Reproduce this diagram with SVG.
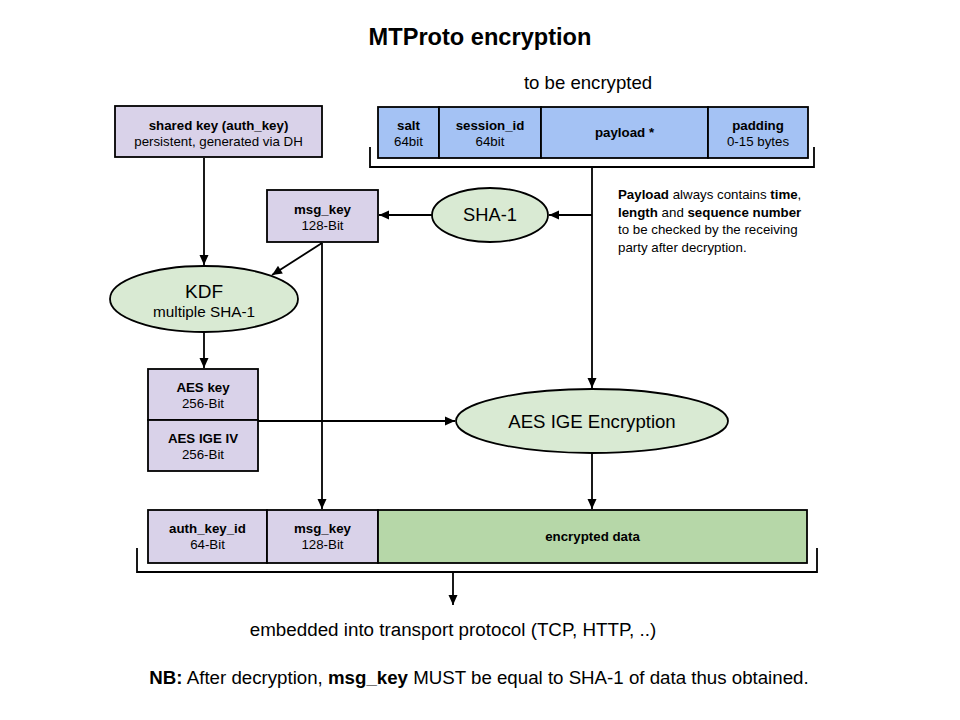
<svg xmlns="http://www.w3.org/2000/svg" width="960" height="720" viewBox="0 0 960 720">
<defs>
<marker id="ah" viewBox="0 0 10 10" refX="10" refY="5" markerWidth="11" markerHeight="10" markerUnits="userSpaceOnUse" orient="auto">
<path d="M0,0.5 L10,5 L0,9.5 z" fill="#000"/>
</marker>
<style>
text{font-family:"Liberation Sans",Arial,sans-serif;fill:#000}
.p{fill:#d9d2e9;stroke:#000;stroke-width:1.8}
.b{fill:#a4c2f4;stroke:#000;stroke-width:1.8}
.g{fill:#b6d7a8;stroke:#000;stroke-width:1.8}
.e{fill:#d9ead3;stroke:#000;stroke-width:1.8}
.l{fill:none;stroke:#000;stroke-width:1.8}
.a{fill:none;stroke:#000;stroke-width:1.8;marker-end:url(#ah)}
.t{font-size:13.3px;text-anchor:middle}
.tb{font-size:13.3px;text-anchor:middle;font-weight:bold}
</style>
</defs>
<rect width="960" height="720" fill="#fff"/>
<text x="480" y="45" font-size="23.6" font-weight="bold" text-anchor="middle">MTProto encryption</text>
<text x="588" y="89" font-size="18.6" text-anchor="middle">to be encrypted</text>

<g id="connectors">
<polyline class="l" points="370,147 370,167 814,167 814,147"/>
<line class="l" x1="592" y1="167" x2="592" y2="215"/>
<line class="a" x1="592" y1="215" x2="549" y2="215"/>
<line class="a" x1="592" y1="215" x2="592" y2="388"/>
<line class="a" x1="432" y1="215" x2="379" y2="215"/>
<line class="a" x1="204" y1="158" x2="204" y2="265"/>
<line class="a" x1="322" y1="243" x2="272" y2="275"/>
<line class="a" x1="322" y1="243" x2="322" y2="509"/>
<line class="a" x1="204" y1="333" x2="204" y2="368"/>
<line class="a" x1="258" y1="421" x2="455" y2="421"/>
<line class="a" x1="592" y1="454" x2="592" y2="509"/>
<polyline class="l" points="137,548 137,572 817,572 817,548"/>
<line class="a" x1="453" y1="572" x2="453" y2="605"/>
</g>

<g id="shared_key">
<rect class="p" x="115" y="106" width="207" height="51"/>
<text class="tb" x="218.5" y="130">shared key (auth_key)</text>
<text class="t" x="218.5" y="146">persistent, generated via DH</text>
</g>

<g id="to_be_encrypted">
<rect class="b" x="378" y="107" width="61" height="51"/>
<text class="tb" x="408.5" y="130">salt</text>
<text class="t" x="408.5" y="146">64bit</text>
<rect class="b" x="439" y="107" width="102" height="51"/>
<text class="tb" x="490" y="130">session_id</text>
<text class="t" x="490" y="146">64bit</text>
<rect class="b" x="541" y="107" width="167" height="51"/>
<text class="tb" x="624.5" y="137">payload *</text>
<rect class="b" x="708" y="107" width="100" height="51"/>
<text class="tb" x="758" y="130">padding</text>
<text class="t" x="758" y="146">0-15 bytes</text>
</g>

<g id="msg_key">
<rect class="p" x="267" y="190" width="111" height="52"/>
<text class="tb" x="322.5" y="214">msg_key</text>
<text class="t" x="322.5" y="230">128-Bit</text>
</g>

<g id="sha1">
<ellipse class="e" cx="490" cy="215" rx="58" ry="27"/>
<text x="490" y="221" font-size="18.3" text-anchor="middle">SHA-1</text>
</g>

<g id="note" font-size="13.3">
<text x="618" y="199"><tspan font-weight="bold">Payload</tspan> always contains <tspan font-weight="bold">time</tspan>,</text>
<text x="618" y="216.5"><tspan font-weight="bold">length</tspan> and <tspan font-weight="bold">sequence number</tspan></text>
<text x="618" y="234">to be checked by the receiving</text>
<text x="618" y="251.5">party after decryption.</text>
</g>

<g id="kdf">
<ellipse class="e" cx="204" cy="299" rx="94" ry="33"/>
<text x="204" y="298" font-size="19" text-anchor="middle">KDF</text>
<text x="204" y="317" font-size="15.3" text-anchor="middle">multiple SHA-1</text>
</g>

<g id="aes_keys">
<rect class="p" x="148" y="369" width="110" height="51"/>
<text class="tb" x="203" y="392">AES key</text>
<text class="t" x="203" y="408">256-Bit</text>
<rect class="p" x="148" y="420" width="110" height="51"/>
<text class="tb" x="203" y="443">AES IGE IV</text>
<text class="t" x="203" y="459">256-Bit</text>
</g>

<g id="aes_ige">
<ellipse class="e" cx="592" cy="421" rx="136" ry="32"/>
<text x="592" y="428" font-size="18.6" text-anchor="middle">AES IGE Encryption</text>
</g>

<g id="output">
<rect class="p" x="148" y="510" width="119" height="53"/>
<text class="tb" x="207.5" y="533">auth_key_id</text>
<text class="t" x="207.5" y="549">64-Bit</text>
<rect class="p" x="267" y="510" width="111" height="53"/>
<text class="tb" x="322.5" y="533">msg_key</text>
<text class="t" x="322.5" y="549">128-Bit</text>
<rect class="g" x="378" y="510" width="429" height="53"/>
<text class="tb" x="592.5" y="541">encrypted data</text>
</g>

<text x="453" y="636" font-size="18.8" text-anchor="middle">embedded into transport protocol (TCP, HTTP, ..)</text>
<text x="479" y="684" font-size="18.7" text-anchor="middle"><tspan font-weight="bold">NB:</tspan> After decryption, <tspan font-weight="bold">msg_key</tspan> MUST be equal to SHA-1 of data thus obtained.</text>
</svg>
